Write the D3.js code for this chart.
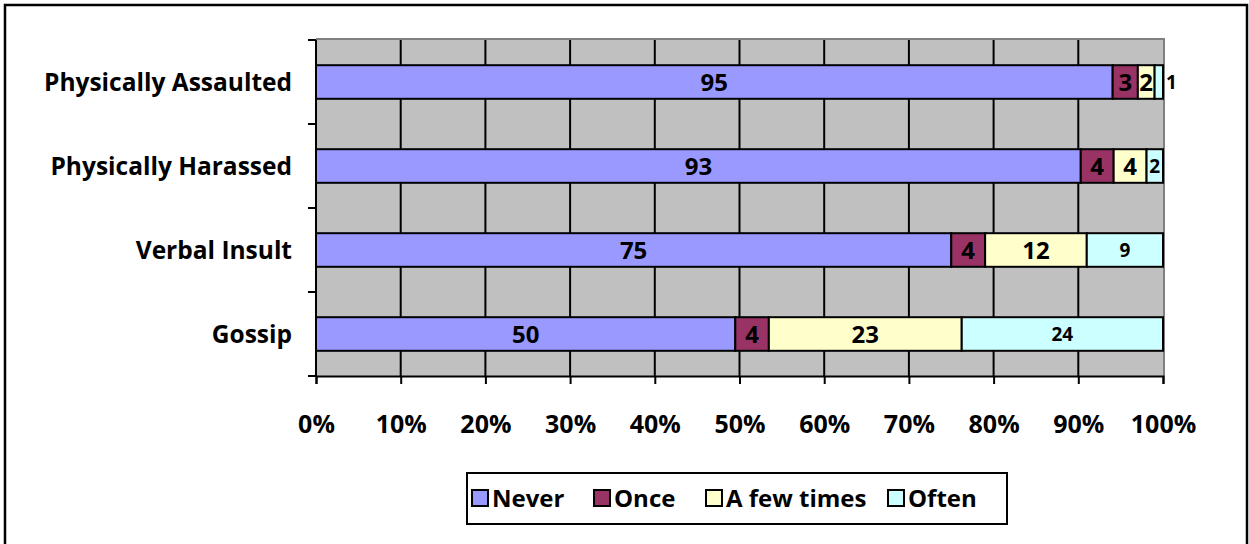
<!DOCTYPE html>
<html><head><meta charset="utf-8">
<script src="https://cdn.jsdelivr.net/npm/d3@7"></script>
<style>
html,body{margin:0;padding:0;background:#fff;}
svg{display:block;font-family:"Open Sans",sans-serif;font-weight:bold;}
</style></head>
<body>
<svg id="chart" width="1249" height="544"></svg>
<script>
const categories = ["Physically Assaulted","Physically Harassed","Verbal Insult","Gossip"];
const seriesNames = ["Never","Once","A few times","Often"];
const never = [95,93,75,50];
const once = [3,4,4,4];
const fewTimes = [2,4,12,23];
const often = [1,2,9,24];
const tickLabels = ["0%","10%","20%","30%","40%","50%","60%","70%","80%","90%","100%"];
const colors = ["#9999FF","#993366","#FFFFCC","#CCFFFF"];

const FONT = "'Open Sans',sans-serif";
const svg = d3.select("#chart");
const W = 1249, H = 544;
const m = {left:316, right:W-1163, top:40, bottom:H-376};
const iw = W - m.left - m.right, ih = H - m.top - m.bottom;

// outer border
svg.append("rect").attr("x",5).attr("y",5).attr("width",1242).attr("height",545)
  .attr("fill","#fff").attr("stroke","#000").attr("stroke-width",2.5);

const g = svg.append("g").attr("transform",`translate(${m.left},${m.top})`);

const x = d3.scaleLinear().domain([0,1]).range([0,iw]);
const y = d3.scaleBand().domain(categories).range([0,ih]).paddingInner(0.6).paddingOuter(0.3);

// plot background
g.append("rect").attr("width",iw).attr("height",ih).attr("fill","#C0C0C0");
g.append("line").attr("x1",0).attr("x2",iw).attr("y1",-1).attr("y2",-1).attr("stroke","#808080").attr("stroke-width",2);
g.append("line").attr("x1",iw+1).attr("x2",iw+1).attr("y1",-2).attr("y2",ih).attr("stroke","#808080").attr("stroke-width",2);

// gridlines
const ticks = d3.range(tickLabels.length).map(i => i/(tickLabels.length-1));
g.selectAll(".grid").data(ticks.slice(1,-1)).join("line")
  .attr("x1",d=>x(d)).attr("x2",d=>x(d)).attr("y1",0).attr("y2",ih)
  .attr("stroke","#000").attr("stroke-width",2);

// stack data
const rows = categories.map((c,i)=>({cat:c, vals:[never[i],once[i],fewTimes[i],often[i]]}));
rows.forEach(r=>{
  const tot = d3.sum(r.vals); let acc = 0;
  r.segs = r.vals.map((v,k)=>{const s={k, v, x0:acc/tot, x1:(acc+v)/tot, cat:r.cat}; acc+=v; return s;});
});
const segs = rows.flatMap(r=>r.segs);

g.selectAll(".seg").data(segs).join("rect")
  .attr("x",d=>x(d.x0)).attr("width",d=>x(d.x1)-x(d.x0))
  .attr("y",d=>y(d.cat)).attr("height",y.bandwidth())
  .attr("fill",d=>colors[d.k]).attr("stroke","#000").attr("stroke-width",2);

// labels
g.selectAll(".lbl").data(segs).join("text")
  .attr("font-size",d=>d.k===3?19:24)
  .attr("y",d=>y(d.cat)+y.bandwidth()/2)
  .attr("dy","0.36em")
  .text(d=>d.v)
  .each(function(d){
    const t = d3.select(this);
    const w = this.getComputedTextLength();
    const sw = x(d.x1)-x(d.x0);
    if (w > sw && d.k===3 && sw < 10) {
      t.attr("x", x(d.x1)+3).attr("text-anchor","start");
    } else {
      t.attr("x",(x(d.x0)+x(d.x1))/2).attr("text-anchor","middle");
    }
  });

// x axis
const xa = g.append("g").attr("transform",`translate(0,${ih})`)
  .call(d3.axisBottom(x).tickValues(ticks).tickFormat((d,i)=>tickLabels[i]).tickSize(8).tickPadding(31));
xa.select(".domain").attr("stroke","#000").attr("stroke-width",2);
xa.selectAll(".tick line").attr("stroke","#000").attr("stroke-width",2);
xa.selectAll("text").attr("font-size",25).attr("font-family",FONT).attr("font-weight","bold").attr("fill","#000");

// y axis: line and boundary ticks
g.append("line").attr("x1",0).attr("x2",0).attr("y1",0).attr("y2",ih).attr("stroke","#000").attr("stroke-width",2);
const bounds = d3.range(categories.length+1).map(i=>i*ih/categories.length);
g.selectAll(".ytick").data(bounds).join("line")
  .attr("x1",-8).attr("x2",0).attr("y1",d=>d).attr("y2",d=>d).attr("stroke","#000").attr("stroke-width",2);
g.selectAll(".ylbl").data(categories).join("text")
  .attr("x",-24).attr("y",d=>y(d)+y.bandwidth()/2).attr("dy","0.36em")
  .attr("text-anchor","end").attr("font-size",24.5).text(d=>d);

// legend
const lg = svg.append("g");
lg.append("rect").attr("x",467).attr("y",473).attr("width",540).attr("height",51)
  .attr("fill","#fff").attr("stroke","#000").attr("stroke-width",2);
const itemX = [472,594,706,888];
seriesNames.forEach((n,i)=>{
  lg.append("rect").attr("x",itemX[i]).attr("y",490).attr("width",16).attr("height",16)
    .attr("fill",colors[i]).attr("stroke","#000").attr("stroke-width",2);
  lg.append("text").attr("x",itemX[i]+20).attr("y",498).attr("dy","0.36em")
    .attr("font-size",24).text(n);
});
</script>
</body></html>
